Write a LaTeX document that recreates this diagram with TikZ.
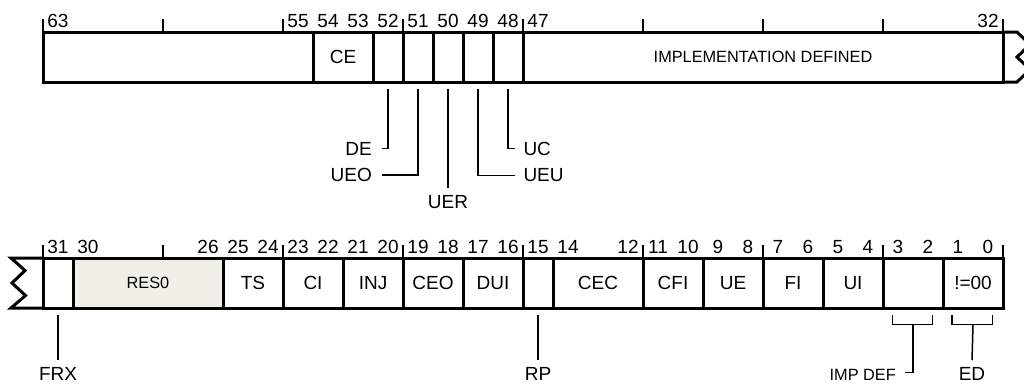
\documentclass[tikz,border=0pt]{standalone}
\usepackage{fontspec}
\setmainfont{Liberation Sans}
\newcommand\labfont{\fontsize{19pt}{19pt}\selectfont}
\newcommand\smlfont{\fontsize{16.3pt}{16.3pt}\selectfont}
\definecolor{resfill}{RGB}{240,240,233}
\begin{document}
\begin{tikzpicture}[x=1pt,y=-1pt,
  cell/.style={draw, line width=3pt, minimum height=50pt, inner sep=0pt, outer sep=0pt, font=\labfont, anchor=center},
  bitnum/.style={anchor=base, inner sep=0pt, font=\labfont},
  lbl/.style={inner sep=0pt, font=\labfont},
  tick/.style={line width=1.4pt},
  leader/.style={line width=1.5pt},
  brk/.style={line width=3pt, line join=miter}]
\clip (0,0) rectangle (1024,383);
% ---------- top row (bits 63..32) ----------
\node[cell, minimum width=270pt] (c6355) at (178,57) {};
\node[cell, minimum width=60pt]  (c5453) at (343,57) {CE};
\node[cell, minimum width=30pt]  (c52) at (388,57) {};
\node[cell, minimum width=30pt]  (c51) at (418,57) {};
\node[cell, minimum width=30pt]  (c50) at (448,57) {};
\node[cell, minimum width=30pt]  (c49) at (478,57) {};
\node[cell, minimum width=30pt]  (c48) at (508,57) {};
\node[cell, minimum width=480pt, font=\smlfont] (c4732) at (763,57) {IMPLEMENTATION DEFINED};
\draw[brk] (c4732.north east) -- (1017,32) -- (1030,44.5) -- (1017,57) -- (1030,69.5) -- (1017,82) -- (c4732.south east);
\foreach \x in {43,163,283,403,523,643,763,883,1003}
  \draw[tick] (\x,19) -- (\x,32);
\foreach \b [evaluate=\b as \x using 1948-30*\b] in {63,55,54,53,52,51,50,49,48,47,32}
  \node[bitnum] (t\b) at (\x,27.3) {\b};
% top leaders
\node[lbl, anchor=base east] (de)  at (372,155)   {DE};
\node[lbl, anchor=base east] (ueo) at (372,181.7) {UEO};
\node[lbl, anchor=base]      (uer) at (448,208)   {UER};
\node[lbl, anchor=base west] (ueu) at (523.3,181.7) {UEU};
\node[lbl, anchor=base west] (uc)  at (523.3,155)   {UC};
\draw[leader] ([yshift=-7pt]c52.south) |- ([xshift=10pt]de.east);
\draw[leader] ([yshift=-7pt]c51.south) |- ([xshift=10pt]ueo.east);
\draw[leader] ([yshift=-7pt]c50.south) -- ([yshift=7pt]uer.north);
\draw[leader] ([yshift=-7pt]c49.south) |- ([xshift=-8pt]ueu.west);
\draw[leader] ([yshift=-7pt]c48.south) |- ([xshift=-8pt]uc.west);
% ---------- bottom row (bits 31..0) ----------
\node[cell, minimum width=30pt]  (c31)   at (58,283)  {};
\node[cell, minimum width=150pt, fill=resfill, font=\smlfont] (c3026) at (148,283) {RES0};
\node[cell, minimum width=60pt]  (c2524) at (253,283) {TS};
\node[cell, minimum width=60pt]  (c2322) at (313,283) {CI};
\node[cell, minimum width=60pt]  (c2120) at (373,283) {INJ};
\node[cell, minimum width=60pt]  (c1918) at (433,283) {CEO};
\node[cell, minimum width=60pt]  (c1716) at (493,283) {DUI};
\node[cell, minimum width=30pt]  (c15)   at (538,283) {};
\node[cell, minimum width=90pt]  (c1412) at (598,283) {CEC};
\node[cell, minimum width=60pt]  (c1110) at (673,283) {CFI};
\node[cell, minimum width=60pt]  (c0908) at (733,283) {UE};
\node[cell, minimum width=60pt]  (c0706) at (793,283) {FI};
\node[cell, minimum width=60pt]  (c0504) at (853,283) {UI};
\node[cell, minimum width=60pt]  (c0302) at (913,283) {};
\node[cell, minimum width=60pt]  (c0100) at (973,283) {!=00};
\draw[brk] (c31.north west) -- (11,258) -- (25,270.5) -- (12,283) -- (25.5,295.5) -- (11,308) -- (c31.south west);
\foreach \x in {43,163,283,403,523,643,763,883,1003}
  \draw[tick] (\x,245) -- (\x,258);
\foreach \b [evaluate=\b as \x using 988-30*\b] in {31,30,26,25,24,23,22,21,20,19,18,17,16,15,14,12,11,10,9,8,7,6,5,4,3,2,1,0}
  \node[bitnum] (u\b) at (\x,253.3) {\b};
% bottom leaders
\node[lbl, anchor=base] (frx) at (58,380.5)  {FRX};
\node[lbl, anchor=base] (rp)  at (538,380.5) {RP};
\node[lbl, anchor=base] (ed)  at (972,380)   {ED};
\node[inner sep=0pt, font=\smlfont, anchor=base east] (impdef) at (896,380) {IMP DEF};
\draw[leader] ([yshift=-7pt]c31.south) -- ([yshift=7pt]frx.north);
\draw[leader] ([yshift=-7pt]c15.south) -- ([yshift=7pt]rp.north);
\coordinate (impmid) at ([yshift=-16.5pt]c0302.south);
\coordinate (edmid)  at ([yshift=-16.5pt]c0100.south);
\draw[leader] ([xshift=-20.5pt,yshift=-7pt]c0302.south) -- ([xshift=-20.5pt]impmid) -- ([xshift=19.5pt]impmid) -- ([xshift=19.5pt,yshift=-7pt]c0302.south);
\draw[leader] (impmid) |- ([xshift=9pt,yshift=2pt]impdef.east);
\draw[leader] ([xshift=-21pt,yshift=-7pt]c0100.south) -- ([xshift=-21pt]edmid) -- ([xshift=19.5pt]edmid) -- ([xshift=19.5pt,yshift=-7pt]c0100.south);
\draw[leader] (edmid) -- ([yshift=6.5pt]ed.north);
\end{tikzpicture}
\end{document}
